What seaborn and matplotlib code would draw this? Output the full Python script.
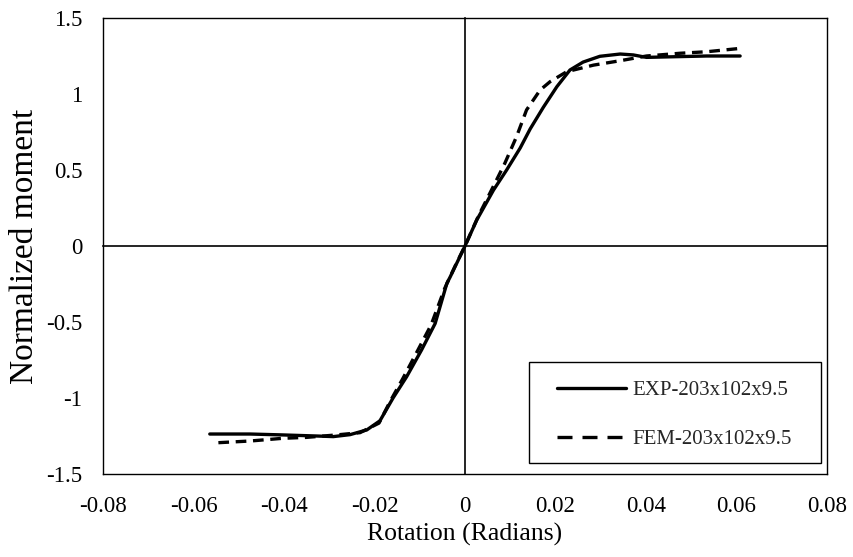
import numpy as np
import pandas as pd
import matplotlib
matplotlib.use("Agg")
import matplotlib.pyplot as plt
from matplotlib.patches import Rectangle
import seaborn as sns

# ---- data ----
exp_x = [-0.0564, -0.0475, -0.0402, -0.0328, -0.0291, -0.0254, -0.0217, -0.0188,
         -0.0159, -0.0129, -0.0096, -0.0066, -0.0040, -0.0033, 0.0, 0.0026, 0.0063,
         0.0092, 0.0122, 0.0144, 0.0173, 0.0203, 0.0232, 0.0261, 0.0298, 0.0343,
         0.0372, 0.0401, 0.0460, 0.0534, 0.0608]
exp_y = [-1.237, -1.237, -1.243, -1.250, -1.254, -1.241, -1.210, -1.150,
         -1.000, -0.860, -0.684, -0.510, -0.245, -0.205, 0.0, 0.171, 0.368,
         0.500, 0.645, 0.770, 0.912, 1.048, 1.158, 1.210, 1.248, 1.263,
         1.257, 1.241, 1.245, 1.250, 1.250]

fem_x = [-0.0545, -0.0475, -0.0402, -0.0350, -0.0284, -0.0232, -0.0190, -0.0165,
         -0.0137, -0.0105, -0.0075, -0.0045, -0.0020, 0.0, 0.0030, 0.0066, 0.0088,
         0.0114, 0.0136, 0.0166, 0.0188, 0.0225, 0.0284, 0.0343, 0.0401, 0.0475,
         0.0534, 0.0608]
fem_y = [-1.294, -1.283, -1.265, -1.259, -1.243, -1.228, -1.165, -1.020,
         -0.870, -0.690, -0.520, -0.280, -0.120, 0.0, 0.200, 0.412, 0.544,
         0.720, 0.895, 1.026, 1.081, 1.147, 1.190, 1.219, 1.250, 1.268,
         1.278, 1.300]

series_names = ["EXP-203x102x9.5", "FEM-203x102x9.5"]
x_ticks = [-0.08, -0.06, -0.04, -0.02, 0, 0.02, 0.04, 0.06, 0.08]
x_ticklabels = ["-0.08", "-0.06", "-0.04", "-0.02", "0", "0.02", "0.04", "0.06", "0.08"]
y_ticks = [-1.5, -1, -0.5, 0, 0.5, 1, 1.5]
y_ticklabels = ["-1.5", "-1", "-0.5", "0", "0.5", "1", "1.5"]

df = pd.concat([
    pd.DataFrame({"x": exp_x, "y": exp_y, "series": series_names[0]}),
    pd.DataFrame({"x": fem_x, "y": fem_y, "series": series_names[1]}),
], ignore_index=True)

sns.set_theme(style="white")
plt.rcParams["font.family"] = ["Liberation Serif", "DejaVu Serif"]

fig = plt.figure(figsize=(8.54, 5.57), dpi=100)
ax = fig.add_axes([103/854, 1-474/557, 724/854, 456/557])

sns.lineplot(data=df, x="x", y="y", style="series", sort=False,
             dashes={series_names[0]: "", series_names[1]: (3.2, 2.0)},
             color="black", linewidth=2.4, ax=ax, legend=True, estimator=None)

ax.set_xlim(-0.08, 0.08)
ax.set_ylim(-1.5, 1.5)
ax.set_xticks(x_ticks)
ax.set_xticklabels(x_ticklabels)
ax.set_yticks(y_ticks)
ax.set_yticklabels(y_ticklabels)
ax.tick_params(axis="both", length=0, labelsize=16.5, colors="black")
ax.tick_params(axis="x", pad=16)
ax.tick_params(axis="y", pad=15)
for s in ax.spines.values():
    s.set_visible(True)
    s.set_color("black")
    s.set_linewidth(1.0)

ax.set_xlabel("Rotation (Radians)", fontsize=18.5, color="black", labelpad=4)
ax.set_ylabel("Normalized moment", fontsize=24, color="black", labelpad=4)

# zero axes with small ticks
ax2 = fig.add_axes(ax.get_position(), frameon=True, facecolor="none")
ax2.set_xlim(-0.08, 0.08)
ax2.set_ylim(-1.5, 1.5)
ax2.spines["left"].set_position(("data", 0))
ax2.spines["bottom"].set_position(("data", 0))
ax2.spines["top"].set_visible(False)
ax2.spines["right"].set_visible(False)
for k in ("left", "bottom"):
    ax2.spines[k].set_color("black")
    ax2.spines[k].set_linewidth(1.2)
ax2.set_xticks([t for t in x_ticks if t not in (-0.08, 0.08, 0)])
ax2.set_yticks([t for t in y_ticks if t not in (-1.5, 1.5, 0)])
ax2.tick_params(axis="both", direction="in", length=5, width=1.0, color="black",
                labelbottom=False, labelleft=False)
ax2.grid(False)

# legend: box drawn as a frame rectangle, entries placed inside
ax.add_patch(Rectangle((0.588, 0.0241), 0.4033, 0.2215, transform=ax.transAxes,
                       facecolor="white", edgecolor="black", linewidth=1.0, zorder=5))
handles, labels = ax.get_legend_handles_labels()
leg = ax.legend(handles, labels, loc="upper left", bbox_to_anchor=(0.627, 0.205),
                fontsize=15, frameon=False, handlelength=3.3, handletextpad=0.33,
                labelspacing=1.4, borderpad=0.0, borderaxespad=0.0)
leg.set_zorder(6)
for i, h in enumerate(leg.get_lines()):
    h.set_linewidth(2.4)
    h.set_color("black")
    if i == 1:
        h.set_linestyle((0, (4.5, 3.0)))
ax.grid(False)

fig.savefig("out.png", dpi=100)
